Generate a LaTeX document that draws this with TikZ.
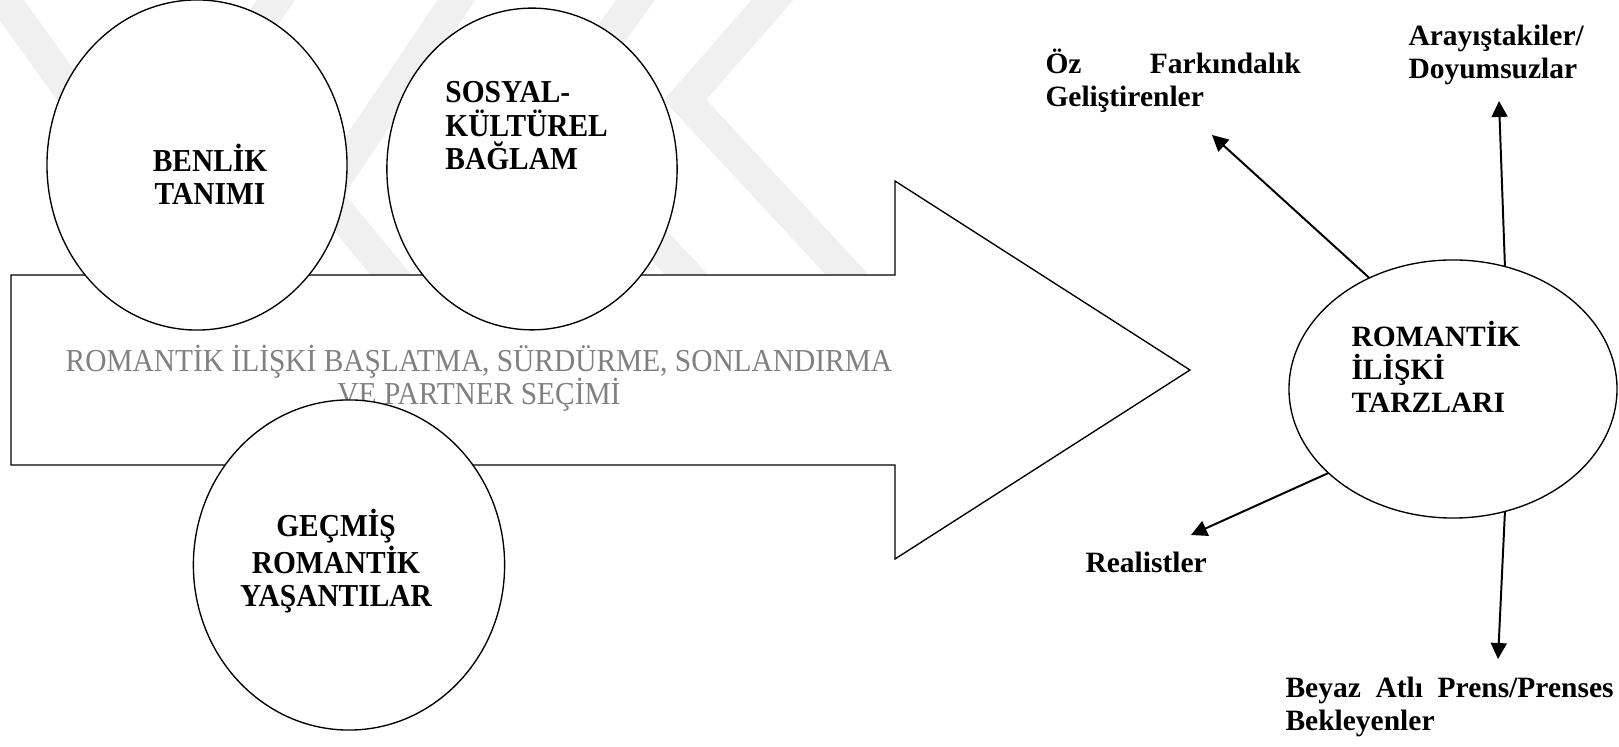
\documentclass[tikz,border=0pt]{standalone}
\usepackage{fontspec}
\setmainfont{Liberation Serif}
\newfontfamily\narrowserif[FakeStretch=0.92]{Liberation Serif}
\usetikzlibrary{shapes.geometric,arrows.meta}

\tikzset{
  oval/.style={ellipse, draw, fill=white, line width=0.55pt, inner sep=0pt, outer sep=0pt},
  lefttxt/.style={font=\narrowserif\bfseries\fontsize{13}{13.8}\selectfont, inner sep=0pt},
  righttxt/.style={font=\bfseries\fontsize{12}{13.6}\selectfont, inner sep=0pt, align=left, anchor=base west},
  pointer/.style={-{Triangle[length=6.5pt,width=6.5pt]}, line width=0.8pt},
  wmark/.style={draw=gray!12, line width=0.45cm, line join=miter}
}

\begin{document}
\begin{tikzpicture}[x=0.0143cm, y=-0.0143cm]
  \useasboundingbox (0,0) rectangle (1619,747);

  \begin{scope}
    \clip (0,0) rectangle (885,290);
    \draw[wmark] (-10,-20) -- (120,160);
    \draw[wmark] (290,-20) -- (150,180);
    \draw[wmark] (470,-20) -- (325,195) -- (420,310);
    \draw[wmark] (650,-20) -- (545,125) -- (720,310);
    \draw[wmark] (790,-20) -- (685,100) -- (880,310);
  \end{scope}

  \draw[line width=0.55pt, fill=white] (11,275) -- (895,275) -- (895,181) -- (1190,370)
    -- (895,559) -- (895,465) -- (11,465) -- cycle;

  \node[lefttxt, font=\narrowserif\fontsize{13}{13.8}\selectfont, text=black!50, align=center, anchor=base] (surec) at (479,405)
    {ROMANTİK İLİŞKİ BAŞLATMA, SÜRDÜRME, SONLANDIRMA\\VE PARTNER SEÇİMİ};

  \node[oval, minimum width=4.29cm, minimum height=4.72cm] (benlik) at (197,165) {};
  \node[oval, minimum width=4.15cm, minimum height=4.60cm] (sosyal) at (532,169) {};
  \node[oval, minimum width=4.45cm, minimum height=4.72cm] (gecmis) at (349,565) {};
  \node[oval, minimum width=4.69cm, minimum height=3.69cm] (tarz) at (1453,389) {};

  \node[lefttxt, align=center, anchor=base] (benliktxt) at (210,205) {BENLİK\\TANIMI};
  \node[lefttxt, align=left, anchor=base west] (sosyaltxt) at (445,170) {SOSYAL-\\KÜLTÜREL\\BAĞLAM};
  \node[lefttxt, align=center, anchor=base] (gecmistxt) at (336,607) {GEÇMİŞ\\ROMANTİK\\YAŞANTILAR};
  \node[righttxt] (tarztxt) at (1351,413) {ROMANTİK\\İLİŞKİ\\TARZLARI};

  \node[righttxt] (oz) at (1045,107) {\makebox[3.65cm][s]{Öz Farkındalık}\\Geliştirenler};
  \node[righttxt] (arayis) at (1408,79) {Arayıştakiler/\\Doyumsuzlar};
  \node[righttxt] (real) at (1085,573) {Realistler};
  \node[righttxt] (beyaz) at (1285,731) {\makebox[4.69cm][s]{Beyaz Atlı Prens/Prenses}\\Bekleyenler};

  \coordinate (oztip) at (1212,135);
  \coordinate (aratip) at (1499,101);
  \coordinate (realtip) at (1191,535);
  \coordinate (beytip) at (1498,659);

  \foreach \a/\t in {127/oztip, 67/aratip, 214/realtip, 293/beytip}
    \draw[pointer] (tarz.\a) -- (\t);
\end{tikzpicture}
\end{document}
